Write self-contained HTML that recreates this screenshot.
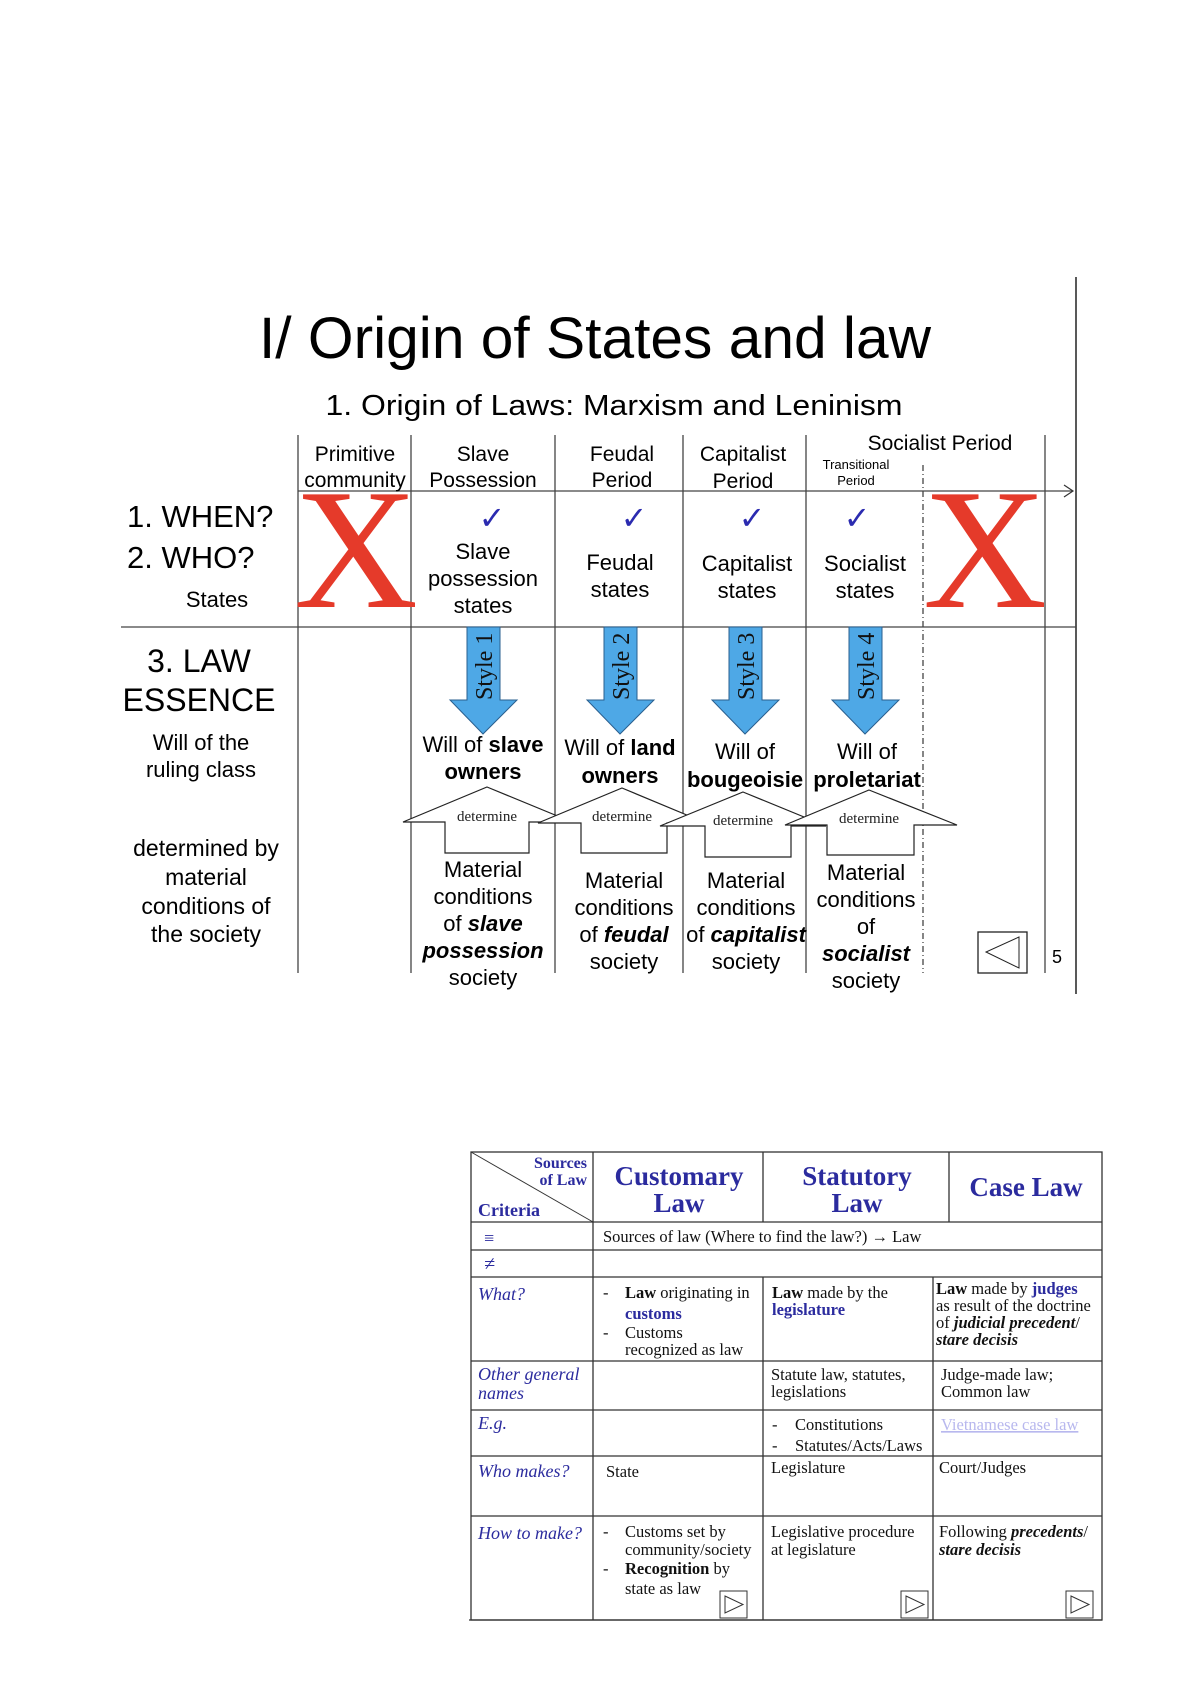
<!DOCTYPE html>
<html><head><meta charset="utf-8"><style>
html,body{margin:0;padding:0;background:#fff;}
svg{display:block;}
.s{font-family:"Liberation Sans",sans-serif;}
.r{font-family:"Liberation Serif",serif;}
</style></head><body>
<svg width="1193" height="1685" viewBox="0 0 1193 1685" xmlns="http://www.w3.org/2000/svg">
<rect width="1193" height="1685" fill="#fff"/>
<!-- top slide -->
<line x1="1076" y1="277" x2="1076" y2="994" stroke="#222" stroke-width="1.5"/>
<text class="s" x="595" y="358" font-size="58" text-anchor="middle" textLength="672" lengthAdjust="spacingAndGlyphs">I/ Origin of States and law</text>
<text class="s" x="614" y="415" font-size="29" text-anchor="middle" textLength="577" lengthAdjust="spacingAndGlyphs">1. Origin of Laws: Marxism and Leninism</text>
<g stroke="#444" stroke-width="1.3">
<line x1="298" y1="435" x2="298" y2="973"/>
<line x1="411" y1="435" x2="411" y2="973"/>
<line x1="555" y1="435" x2="555" y2="973"/>
<line x1="683" y1="435" x2="683" y2="973"/>
<line x1="806" y1="435" x2="806" y2="973"/>
<line x1="1045" y1="435" x2="1045" y2="973"/>
<line x1="923" y1="465" x2="923" y2="973" stroke-dasharray="6,3,1,3"/>
<line x1="298" y1="491" x2="1072" y2="491"/>
<line x1="121" y1="627" x2="1076" y2="627"/>
</g>
<path d="M1064 485 L1073 491 L1064 497" fill="none" stroke="#333" stroke-width="1.2"/>
<g class="s" font-size="21" text-anchor="middle">
<text x="355" y="461">Primitive</text><text x="355" y="487">community</text>
<text x="483" y="461">Slave</text><text x="483" y="487">Possession</text>
<text x="622" y="461">Feudal</text><text x="622" y="487">Period</text>
<text x="743" y="461">Capitalist</text><text x="743" y="488">Period</text>
<text x="940" y="450">Socialist Period</text>
<text x="856" y="469" font-size="13">Transitional</text><text x="856" y="485" font-size="13">Period</text>
</g>
<g class="s">
<text x="127" y="527" font-size="31">1. WHEN?</text>
<text x="127" y="568" font-size="31">2. WHO?</text>
<text x="217" y="607" font-size="22" text-anchor="middle">States</text>
<text x="199" y="672" font-size="32" text-anchor="middle">3. LAW</text>
<text x="199" y="711" font-size="32" text-anchor="middle">ESSENCE</text>
<text x="201" y="750" font-size="22" text-anchor="middle">Will of the</text>
<text x="201" y="777" font-size="22" text-anchor="middle">ruling class</text>
<g font-size="23" text-anchor="middle">
<text x="206" y="856">determined by</text><text x="206" y="885">material</text><text x="206" y="914">conditions of</text><text x="206" y="942">the society</text>
</g>
</g>
<text class="r" x="356" y="607" font-size="172" fill="#e53a2a" text-anchor="middle">X</text>
<text class="r" x="985" y="607" font-size="172" fill="#e53a2a" text-anchor="middle">X</text>
<g fill="#2b2bb0" font-size="32" class="s" text-anchor="middle">
<text x="492" y="529">✓</text><text x="634" y="529">✓</text><text x="752" y="529">✓</text><text x="857" y="529">✓</text>
</g>
<g class="s" font-size="22" text-anchor="middle">
<text x="483" y="559">Slave</text><text x="483" y="586">possession</text><text x="483" y="613">states</text>
<text x="620" y="570">Feudal</text><text x="620" y="597">states</text>
<text x="747" y="571">Capitalist</text><text x="747" y="598">states</text>
<text x="865" y="571">Socialist</text><text x="865" y="598">states</text>
</g>
<!-- blue arrows -->
<g fill="#4ea8e6" stroke="#2a5f8f" stroke-width="1">
<path d="M467 627 H500 V700 H517 L483 734 L450 700 H467 Z"/>
<path d="M604 627 H637 V700 H654 L620 734 L587 700 H604 Z"/>
<path d="M729 627 H762 V700 H779 L745 734 L712 700 H729 Z"/>
<path d="M849 627 H882 V700 H899 L865 734 L832 700 H849 Z"/>
</g>
<g class="r" font-size="24" fill="#111">
<text transform="translate(492,700) rotate(-90)">Style 1</text>
<text transform="translate(629,700) rotate(-90)">Style 2</text>
<text transform="translate(754,700) rotate(-90)">Style 3</text>
<text transform="translate(874,700) rotate(-90)">Style 4</text>
</g>
<g class="s" font-size="22" text-anchor="middle">
<text x="483" y="752">Will of <tspan font-weight="bold">slave</tspan></text><text x="483" y="779" font-weight="bold">owners</text>
<text x="620" y="755">Will of <tspan font-weight="bold">land</tspan></text><text x="620" y="783" font-weight="bold">owners</text>
<text x="745" y="759">Will of</text><text x="745" y="787" font-weight="bold">bougeoisie</text>
<text x="867" y="759">Will of</text><text x="867" y="787" font-weight="bold">proletariat</text>
</g>
<!-- determine arrows -->
<g fill="#fff" stroke="#222" stroke-width="1.2">
<path d="M487 787 L572 822 H529 V853 H445 V822 H403 Z"/>
<path d="M622 788 L706 823 H667 V853 H581 V823 H538 Z"/>
<path d="M743 792 L826 826 H791 V857 H705 V826 H660 Z"/>
<path d="M869 790 L957 825 H914 V855 H827 V825 H785 Z"/>
</g>
<g class="r" font-size="15" text-anchor="middle" fill="#222">
<text x="487" y="821">determine</text><text x="622" y="821">determine</text><text x="743" y="825">determine</text><text x="869" y="823">determine</text>
</g>
<g class="s" font-size="22" text-anchor="middle">
<text x="483" y="877">Material</text><text x="483" y="904">conditions</text><text x="483" y="931">of <tspan font-weight="bold" font-style="italic">slave</tspan></text><text x="483" y="958" font-weight="bold" font-style="italic">possession</text><text x="483" y="985">society</text>
<text x="624" y="888">Material</text><text x="624" y="915">conditions</text><text x="624" y="942">of <tspan font-weight="bold" font-style="italic">feudal</tspan></text><text x="624" y="969">society</text>
<text x="746" y="888">Material</text><text x="746" y="915">conditions</text><text x="746" y="942">of <tspan font-weight="bold" font-style="italic">capitalist</tspan></text><text x="746" y="969">society</text>
<text x="866" y="880">Material</text><text x="866" y="907">conditions</text><text x="866" y="934">of</text><text x="866" y="961" font-weight="bold" font-style="italic">socialist</text><text x="866" y="988">society</text>
</g>
<rect x="978" y="932" width="49" height="41" fill="#fff" stroke="#222" stroke-width="1.3"/>
<path d="M1019 937 L986 952 L1019 968 Z" fill="none" stroke="#222" stroke-width="1"/>
<text class="s" x="1052" y="963" font-size="18">5</text>

<!-- bottom table -->
<g stroke="#333" stroke-width="1.3" fill="none">
<rect x="471" y="1152" width="631" height="468"/>
<line x1="469" y1="1620" x2="1102" y2="1620"/>
<line x1="593" y1="1152" x2="593" y2="1620"/>
<line x1="763" y1="1152" x2="763" y2="1222"/>
<line x1="949" y1="1152" x2="949" y2="1222"/>
<line x1="763" y1="1277" x2="763" y2="1620"/>
<line x1="933" y1="1277" x2="933" y2="1620"/>
<line x1="471" y1="1222" x2="1102" y2="1222"/>
<line x1="471" y1="1250" x2="1102" y2="1250"/>
<line x1="471" y1="1277" x2="1102" y2="1277"/>
<line x1="471" y1="1361" x2="1102" y2="1361"/>
<line x1="471" y1="1410" x2="1102" y2="1410"/>
<line x1="471" y1="1456" x2="1102" y2="1456"/>
<line x1="471" y1="1516" x2="1102" y2="1516"/>
<line x1="471" y1="1152" x2="593" y2="1222" stroke-width="1"/>
</g>
<g class="r" fill="#2b2b9e" font-weight="bold">
<text x="587" y="1168" font-size="16" text-anchor="end">Sources</text>
<text x="587" y="1185" font-size="16" text-anchor="end">of Law</text>
<text x="478" y="1216" font-size="18">Criteria</text>
<g font-size="27" text-anchor="middle">
<text x="679" y="1185">Customary</text><text x="679" y="1212">Law</text>
<text x="857" y="1185">Statutory</text><text x="857" y="1212">Law</text>
<text x="1026" y="1196">Case Law</text>
</g>
</g>
<g class="r" font-size="16.5" fill="#111">
<text x="484" y="1244" fill="#2b2b9e" font-size="18">≡</text>
<text x="603" y="1242">Sources of law (Where to find the law?) → Law</text>
<text x="484" y="1270" fill="#2b2b9e" font-size="20" font-style="italic">≠</text>
<g fill="#2b2b9e" font-style="italic" font-size="18">
<text x="478" y="1300">What?</text>
<text x="478" y="1380">Other general</text><text x="478" y="1399">names</text>
<text x="478" y="1429">E.g.</text>
<text x="478" y="1477">Who makes?</text>
<text x="478" y="1539">How to make?</text>
</g>
<text x="603" y="1298">-</text><text x="625" y="1298"><tspan font-weight="bold">Law</tspan> originating in</text>
<text x="625" y="1319" font-weight="bold" fill="#2b2b9e">customs</text>
<text x="603" y="1338">-</text><text x="625" y="1338">Customs</text>
<text x="625" y="1355">recognized as law</text>
<text x="772" y="1298"><tspan font-weight="bold">Law</tspan> made by the</text>
<text x="772" y="1315" font-weight="bold" fill="#2b2b9e">legislature</text>
<text x="936" y="1294"><tspan font-weight="bold">Law</tspan> made by <tspan font-weight="bold" fill="#2b2b9e">judges</tspan></text>
<text x="936" y="1311">as result of the doctrine</text>
<text x="936" y="1328">of <tspan font-weight="bold" font-style="italic">judicial precedent</tspan>/</text>
<text x="936" y="1345" font-weight="bold" font-style="italic">stare decisis</text>
<text x="771" y="1380">Statute law, statutes,</text><text x="771" y="1397">legislations</text>
<text x="941" y="1380">Judge-made law;</text><text x="941" y="1397">Common law</text>
<text x="772" y="1430">-</text><text x="795" y="1430">Constitutions</text>
<text x="772" y="1451">-</text><text x="795" y="1451">Statutes/Acts/Laws</text>
<text x="941" y="1430" fill="#b8b8ee" text-decoration="underline">Vietnamese case law</text>
<text x="606" y="1477">State</text>
<text x="771" y="1473">Legislature</text>
<text x="939" y="1473">Court/Judges</text>
<text x="603" y="1537">-</text><text x="625" y="1537">Customs set by</text>
<text x="625" y="1555">community/society</text>
<text x="603" y="1574">-</text><text x="625" y="1574"><tspan font-weight="bold">Recognition</tspan> by</text>
<text x="625" y="1594">state as law</text>
<text x="771" y="1537">Legislative procedure</text><text x="771" y="1555">at legislature</text>
<text x="939" y="1537">Following <tspan font-weight="bold" font-style="italic">precedents</tspan>/</text>
<text x="939" y="1555" font-weight="bold" font-style="italic">stare decisis</text>
</g>
<g fill="#fff" stroke="#333" stroke-width="1">
<rect x="720" y="1591" width="27" height="27"/><path d="M725 1596 L743 1604.5 L725 1613 Z" fill="none"/>
<rect x="901" y="1591" width="27" height="27"/><path d="M906 1596 L924 1604.5 L906 1613 Z" fill="none"/>
<rect x="1066" y="1591" width="27" height="27"/><path d="M1071 1596 L1089 1604.5 L1071 1613 Z" fill="none"/>
</g>
</svg>
</body></html>
